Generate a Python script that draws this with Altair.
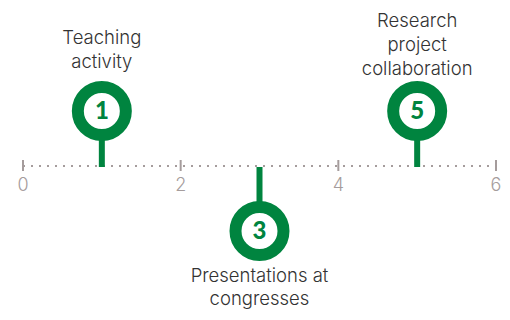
import altair as alt
import pandas as pd

# data
values = [1, 3, 5]
numbers = ["1", "3", "5"]
labels = ["Teaching\nactivity", "Presentations at\ncongresses", "Research\nproject\ncollaboration"]
sides = ["up", "down", "up"]
tick_values = [0, 2, 4, 6]
axis_domain = [0, 6]

GREEN = "#00843f"
GRAY = "#a59c9c"
FONT = "Inter"

events = pd.DataFrame({"x": values, "num": numbers, "label": labels, "side": sides})
ticks = pd.DataFrame({"x": tick_values, "t": [str(v) for v in tick_values]})
line = pd.DataFrame({"x": [axis_domain[0]], "x2": [axis_domain[1]]})

SHIFT = 4
AXIS_Y = 162 - SHIFT

xs = alt.Scale(domain=axis_domain, range=[15, 488])
X = alt.X("x:Q", scale=xs, axis=None)
Y = alt.Y("side:N", scale=alt.Scale(type="point", domain=["up", "down"],
                                     range=[107 - SHIFT, 227 - SHIFT], padding=0), axis=None)

up = "datum.side == 'up'"

dotted = alt.Chart(line).mark_rule(color=GRAY, strokeWidth=2, strokeDash=[2, 6]).encode(
    x=X, x2="x2:Q", y=alt.value(AXIS_Y)
)
tick_marks = alt.Chart(ticks).mark_rule(color=GRAY, strokeWidth=2).encode(
    x=X, y=alt.value(AXIS_Y - 6), y2=alt.value(AXIS_Y + 5)
)
tick_labels = alt.Chart(ticks).mark_text(
    color=GRAY, fontSize=18, font=FONT, fontWeight=300, baseline="middle"
).encode(x=X, y=alt.value(AXIS_Y + 20), text="t:N")
stems = alt.Chart(events).mark_rule(color=GREEN, strokeWidth=6).encode(
    x=X, y=Y, y2=alt.value(AXIS_Y + 1)
)
circles = alt.Chart(events).mark_point(
    shape="circle", filled=True, fill="white", stroke=GREEN, strokeWidth=12, size=2304, opacity=1
).encode(x=X, y=Y)
nums = alt.Chart(events).mark_text(
    color=GREEN, fontSize=24, font="Lato", fontWeight=900, baseline="middle", dy=1
).encode(x=X, y=Y, text="num:N")
labels_up = alt.Chart(events).transform_filter(up).transform_calculate(
    nlines="length(split(datum.label, '\\n'))"
).mark_text(
    color="#333333", fontSize=18.5, font=FONT, fontWeight=300, baseline="middle",
    lineBreak="\n", lineHeight=24
).encode(
    x=X,
    y=alt.value(30),
    yOffset=alt.YOffset("nlines:Q", scale=alt.Scale(domain=[2, 3], range=[0, -17])),
    text="label:N",
)
labels_down = alt.Chart(events).transform_filter("datum.side == 'down'").mark_text(
    color="#333333", fontSize=18.5, font=FONT, fontWeight=300, baseline="middle",
    lineBreak="\n", lineHeight=23
).encode(x=X, y=alt.value(268), text="label:N")

chart = alt.layer(
    dotted, tick_marks, tick_labels, stems, circles, nums, labels_up, labels_down
).properties(
    width=494, height=304, autosize=alt.AutoSizeParams(type="none"), padding=0
).configure_view(stroke=None)

chart.save("out.html", embed_options={"renderer": "svg", "actions": False})
